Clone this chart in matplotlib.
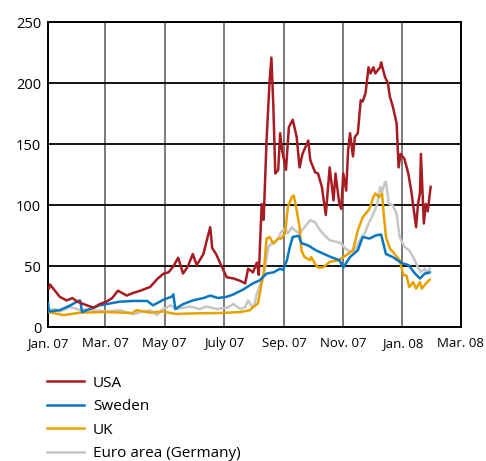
import pandas as pd
import matplotlib
matplotlib.use("Agg")
import matplotlib.pyplot as plt
import matplotlib.dates as mdates

plt.rcParams['font.family'] = ['Open Sans', 'DejaVu Sans']

# Interbank spreads, basis points
usa_dates = ["2007-01-02", "2007-01-03", "2007-01-08", "2007-01-13", "2007-01-20", "2007-01-26",
             "2007-01-31", "2007-02-10", "2007-02-17", "2007-02-23", "2007-03-02", "2007-03-08",
             "2007-03-14", "2007-03-23", "2007-03-29", "2007-04-06", "2007-04-16", "2007-04-24",
             "2007-04-30", "2007-05-05", "2007-05-10", "2007-05-15", "2007-05-20", "2007-05-25",
             "2007-05-30", "2007-06-03", "2007-06-10", "2007-06-13", "2007-06-17", "2007-06-19",
             "2007-06-23", "2007-06-27", "2007-07-04", "2007-07-11", "2007-07-18", "2007-07-23",
             "2007-07-26", "2007-07-31", "2007-08-04", "2007-08-06", "2007-08-09", "2007-08-11",
             "2007-08-14", "2007-08-17", "2007-08-19", "2007-08-21", "2007-08-23", "2007-08-26",
             "2007-08-28", "2007-08-30", "2007-09-03", "2007-09-06", "2007-09-10", "2007-09-14",
             "2007-09-17", "2007-09-20", "2007-09-26", "2007-09-28", "2007-10-03", "2007-10-06",
             "2007-10-10", "2007-10-14", "2007-10-18", "2007-10-22", "2007-10-24", "2007-10-28",
             "2007-10-30", "2007-11-01", "2007-11-04", "2007-11-06", "2007-11-08", "2007-11-11",
             "2007-11-13", "2007-11-16", "2007-11-19", "2007-11-21", "2007-11-24", "2007-11-27",
             "2007-11-29", "2007-12-02", "2007-12-04", "2007-12-09", "2007-12-10", "2007-12-14",
             "2007-12-17", "2007-12-19", "2007-12-22", "2007-12-26", "2007-12-28", "2007-12-30",
             "2008-01-03", "2008-01-07", "2008-01-10", "2008-01-15", "2008-01-17", "2008-01-19",
             "2008-01-20", "2008-01-23", "2008-01-25", "2008-01-27", "2008-01-30"]
usa = [32, 35, 30, 25, 22, 24,
       21, 18, 16, 19, 21, 24,
       30, 26, 28, 30, 33, 40,
       44, 45, 50, 57, 44, 50,
       60, 51, 60, 70, 82, 65,
       60, 53, 41, 40, 38, 36,
       48, 45, 53, 43, 101, 88,
       153, 200, 221, 181, 126, 129,
       159, 145, 129, 164, 170, 156,
       131, 142, 153, 137, 127, 126,
       115, 92, 131, 104, 126, 101,
       97, 126, 112, 145, 159, 140,
       156, 159, 186, 185, 192, 213,
       208, 213, 208, 213, 217, 205,
       200, 189, 181, 167, 131, 142,
       138, 126, 112, 82, 101, 110,
       142, 85, 101, 95, 115]

sweden_dates = ["2007-01-01", "2007-01-02", "2007-01-13", "2007-01-24", "2007-02-01", "2007-02-03",
                "2007-02-05", "2007-02-13", "2007-02-23", "2007-03-02", "2007-03-16", "2007-03-30",
                "2007-04-13", "2007-04-19", "2007-04-30", "2007-05-08", "2007-05-10", "2007-05-12",
                "2007-05-20", "2007-05-30", "2007-06-10", "2007-06-17", "2007-06-25", "2007-07-04",
                "2007-07-11", "2007-07-21", "2007-07-31", "2007-08-07", "2007-08-14", "2007-08-21",
                "2007-08-28", "2007-08-31", "2007-09-04", "2007-09-07", "2007-09-10", "2007-09-16",
                "2007-09-19", "2007-09-26", "2007-10-04", "2007-10-18", "2007-10-28", "2007-11-01",
                "2007-11-08", "2007-11-16", "2007-11-21", "2007-11-28", "2007-12-05", "2007-12-10",
                "2007-12-15", "2007-12-22", "2007-12-31", "2008-01-07", "2008-01-14", "2008-01-19",
                "2008-01-24", "2008-01-29"]
sweden = [20, 13, 14, 18, 21.6, 22,
          12.5, 15, 18, 19, 21, 21.6,
          21.6, 18, 22.7, 25, 27, 15,
          19, 22, 24, 26, 24, 25,
          27, 31, 36, 38.5, 44, 45,
          48, 47, 55, 66, 74, 75,
          69, 67, 63, 58, 55, 49,
          57.6, 63, 74, 72.7, 75.4, 76,
          60, 57.6, 52.7, 51, 44, 40,
          44, 45]

uk_dates = ["2007-01-01", "2007-01-17", "2007-02-03", "2007-03-02", "2007-03-29", "2007-04-02",
            "2007-04-16", "2007-04-29", "2007-05-12", "2007-06-06", "2007-06-27", "2007-07-18",
            "2007-07-28", "2007-07-31", "2007-08-05", "2007-08-09", "2007-08-11", "2007-08-14",
            "2007-08-17", "2007-08-21", "2007-08-26", "2007-08-29", "2007-09-02", "2007-09-05",
            "2007-09-09", "2007-09-11", "2007-09-14", "2007-09-17", "2007-09-19", "2007-09-22",
            "2007-09-28", "2007-09-29", "2007-10-03", "2007-10-06", "2007-10-11", "2007-10-18",
            "2007-10-27", "2007-11-04", "2007-11-11", "2007-11-16", "2007-11-21", "2007-11-28",
            "2007-12-02", "2007-12-04", "2007-12-08", "2007-12-11", "2007-12-12", "2007-12-15",
            "2007-12-19", "2007-12-24", "2007-12-29", "2008-01-02", "2008-01-05", "2008-01-08",
            "2008-01-12", "2008-01-15", "2008-01-19", "2008-01-21", "2008-01-25", "2008-01-29"]
uk = [12.5, 10, 12, 12.5, 11.7, 14,
      12, 13, 11, 11.5, 11.7, 12.5,
      14, 16.6, 19.4, 36, 44, 72.7,
      74, 68.6, 72.7, 72.7, 76.8, 98.6,
      106.8, 108, 96, 82, 63, 57.6,
      55, 57.6, 52, 49, 49, 53.5,
      55, 59, 63, 79.5, 90, 97,
      106.8, 109.6, 106.8, 109.6, 98.6, 74,
      64.5, 60, 55, 42.6, 42.6, 33,
      37, 31.7, 37, 31.7, 35.8, 39]

euro_dates = ["2007-01-01", "2007-01-08", "2007-01-13", "2007-01-24", "2007-02-03", "2007-02-10",
              "2007-02-16", "2007-03-02", "2007-03-16", "2007-03-30", "2007-04-06", "2007-04-16",
              "2007-04-23", "2007-04-29", "2007-05-07", "2007-05-13", "2007-05-27", "2007-06-06",
              "2007-06-13", "2007-06-24", "2007-07-04", "2007-07-11", "2007-07-18", "2007-07-23",
              "2007-07-26", "2007-07-30", "2007-08-01", "2007-08-04", "2007-08-09", "2007-08-12",
              "2007-08-16", "2007-08-19", "2007-08-23", "2007-08-26", "2007-08-29", "2007-09-02",
              "2007-09-05", "2007-09-09", "2007-09-12", "2007-09-17", "2007-09-22", "2007-09-28",
              "2007-10-03", "2007-10-06", "2007-10-11", "2007-10-18", "2007-10-25", "2007-10-30",
              "2007-11-03", "2007-11-08", "2007-11-13", "2007-11-18", "2007-11-23", "2007-11-27",
              "2007-12-02", "2007-12-06", "2007-12-09", "2007-12-11", "2007-12-14", "2007-12-15",
              "2007-12-18", "2007-12-22", "2007-12-26", "2007-12-29", "2008-01-03", "2008-01-08",
              "2008-01-12", "2008-01-17", "2008-01-20", "2008-01-24", "2008-01-26", "2008-01-29"]
euro = [14, 15, 13, 16.6, 14, 15,
        14, 13, 14, 10.7, 12.5, 14,
        10, 14.8, 18, 15, 17, 15,
        17, 15, 16, 19, 15, 16.6,
        22, 17, 16.6, 27.6, 38.5, 47,
        66, 68.6, 70, 72.7, 78, 81,
        76.8, 82, 79.5, 76.8, 82, 87.7,
        86.3, 82, 76.8, 71.3, 70, 68.6,
        64.5, 61.7, 63, 71.3, 76.8, 85,
        93, 101, 115, 111, 119, 119,
        101, 100, 93, 74, 66, 63,
        57.6, 49, 45, 48, 44, 48]

tick_dates = ["2007-01-01", "2007-03-01", "2007-05-01", "2007-07-01",
              "2007-09-01", "2007-11-01", "2008-01-01", "2008-03-01"]
tick_labels = ["Jan. 07", "Mar. 07", "May 07", "July 07",
               "Sep. 07", "Nov. 07", "Jan. 08", "Mar. 08"]

fig = plt.figure(figsize=(4.86, 4.61), dpi=100)
ax = fig.add_axes([0.099, 0.290, 0.849, 0.662])

# grey first so the other series sit on top of it
ax.plot(pd.to_datetime(euro_dates), euro, color="#c6c6c6", lw=1.8, label="Euro area (Germany)", zorder=3)
ax.plot(pd.to_datetime(uk_dates), uk, color="#e8a200", lw=1.8, label="UK", zorder=4)
ax.plot(pd.to_datetime(sweden_dates), sweden, color="#0a78c0", lw=1.8, label="Sweden", zorder=5)
ax.plot(pd.to_datetime(usa_dates), usa, color="#a61c22", lw=1.8, label="USA", zorder=6)

ax.set_xlim(pd.Timestamp("2007-01-01"), pd.Timestamp("2008-03-01"))
ax.set_ylim(0, 250)
ax.set_yticks(range(0, 251, 50))
ax.set_xticks(mdates.date2num(pd.to_datetime(tick_dates)))
ax.set_xticklabels(tick_labels)

ax.grid(axis="y", color="black", lw=1.3, zorder=1)
ax.grid(axis="x", color="#555555", lw=1.1, zorder=1)
ax.tick_params(length=0, labelsize=10.5, pad=5)
ax.tick_params(axis="x", labelsize=9.5, pad=7)
for s in ax.spines.values():
    s.set_linewidth(1.4)

handles, labels = ax.get_legend_handles_labels()
order = [3, 2, 1, 0]
fig.legend([handles[i] for i in order], [labels[i] for i in order],
           loc="upper left", bbox_to_anchor=(0.097, 0.185), frameon=False,
           fontsize=11, handlelength=2.4, handletextpad=0.6, labelspacing=0.55,
           borderpad=0, borderaxespad=0)

fig.savefig("out.png", dpi=100)
